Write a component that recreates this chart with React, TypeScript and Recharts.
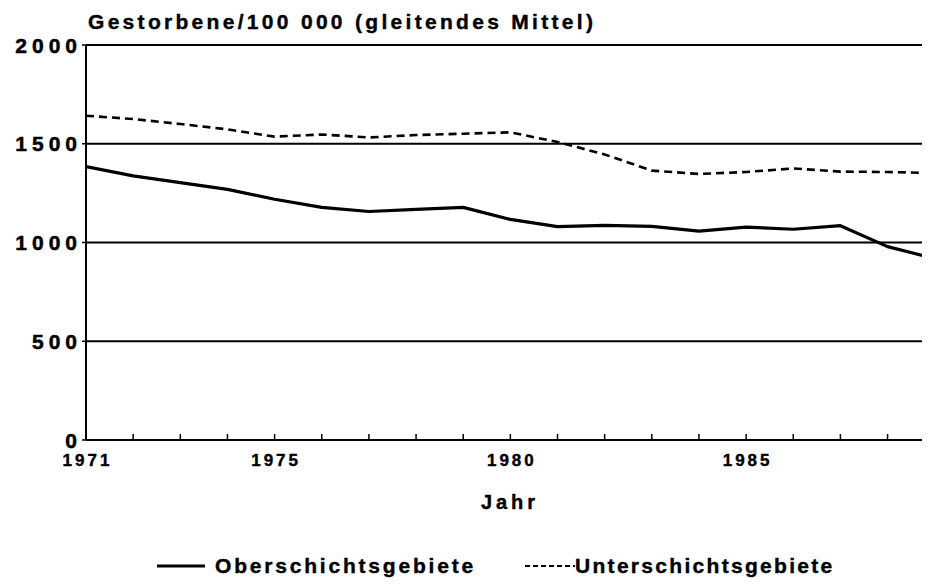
import React from 'react';
import { LineChart, Line, XAxis, YAxis, CartesianGrid, Legend } from 'recharts';

const years = [1971, 1972, 1973, 1974, 1975, 1976, 1977, 1978, 1979, 1980, 1981, 1982, 1983, 1984, 1985, 1986, 1987, 1988, 1988.9];
const oberschicht = [1384, 1337, 1303, 1269, 1219, 1178, 1157, 1168, 1178, 1117, 1080, 1087, 1082, 1058, 1078, 1067, 1085, 979, 925];
const unterschicht = [1642, 1625, 1600, 1573, 1536, 1547, 1532, 1544, 1551, 1558, 1509, 1446, 1364, 1347, 1357, 1375, 1359, 1357, 1352];
const xTicks = [1971, 1972, 1973, 1974, 1975, 1976, 1977, 1978, 1979, 1980, 1981, 1982, 1983, 1984, 1985, 1986, 1987, 1988];
const xTickLabels = [1971, 1975, 1980, 1985];
const yTicks = [0, 500, 1000, 1500, 2000];
const titleText = 'Gestorbene/100 000 (gleitendes Mittel)';
const xAxisTitle = 'Jahr';
const seriesNames = ['Oberschichtsgebiete', 'Unterschichtsgebiete'];

const data = years.map((year, i) => ({ year, ober: oberschicht[i], unter: unterschicht[i] }));

const FONT = '"Liberation Sans", Arial, Helvetica, sans-serif';

const XTick = (props: any) => {
  const { x, y, payload } = props;
  if (!xTickLabels.includes(payload.value)) return <g />;
  return (
    <text x={x + 1.5} y={y + 32} textAnchor="middle" fontFamily={FONT} fontWeight="bold" fontSize={17} fill="#000" stroke="#000" strokeWidth={0.4} style={{ letterSpacing: 3 }}>
      {payload.value}
    </text>
  );
};

const YTick = (props: any) => {
  const { x, y, payload } = props;
  return (
    <text x={x} y={y} dy="0.36em" textAnchor="end" fontFamily={FONT} fontWeight="bold" fontSize={21} fill="#000" stroke="#000" strokeWidth={0.5} style={{ letterSpacing: 5 }}>
      {payload.value}
    </text>
  );
};

const renderJahr = (props: any) => {
  const vb = props.viewBox || {};
  return (
    <text x={vb.x + vb.width / 2 + 2} y={vb.y + 69} textAnchor="middle" fontFamily={FONT} fontWeight="bold" fontSize={20} fill="#000" stroke="#000" strokeWidth={0.4} style={{ letterSpacing: 4 }}>
      {xAxisTitle}
    </text>
  );
};

const renderTitle = () => (
  <text x={80} y={21} textAnchor="start" fontFamily={FONT} fontWeight="bold" fontSize={21} fill="#000" stroke="#000" strokeWidth={0.4} style={{ letterSpacing: 3.3 }}>
    {titleText}
  </text>
);

const LegendContent = (props: any) => {
  const payload = props.payload || [];
  const lefts = [149, 517];
  return (
    <div style={{ position: 'relative', height: 50, fontFamily: FONT, fontWeight: 'bold', fontSize: 21, color: '#000' }}>
      {payload.map((entry: any, i: number) => {
        const dashed = entry.dataKey === 'unter';
        return (
          <div key={i} style={{ position: 'absolute', left: lefts[i], top: 26, height: 24, display: 'flex', alignItems: 'center', whiteSpace: 'nowrap' }}>
            <svg width={dashed ? 50 : 48} height={24} style={{ display: 'block' }}>
              <line x1={0} y1={12} x2={dashed ? 50 : 48} y2={12} stroke="#000" strokeWidth={dashed ? 2 : 3} strokeDasharray={dashed ? '5 3' : undefined} />
            </svg>
            <span style={{ marginLeft: dashed ? 0 : 10, letterSpacing: dashed ? 2.3 : 2.8, lineHeight: '24px', WebkitTextStroke: '0.4px #000' }}>{entry.value}</span>
          </div>
        );
      })}
    </div>
  );
};

export default function App() {
  return (
    <LineChart width={922} height={570} data={data} margin={{ top: 37, right: 0, left: 0, bottom: 0 }}>
      <CartesianGrid vertical={false} stroke="#000" strokeWidth={2} />
      <XAxis
        dataKey="year"
        type="number"
        domain={[1971, 1988.9]}
        allowDataOverflow
        ticks={xTicks}
        interval={0}
        height={88}
        tickSize={-6}
        tickMargin={0}
        axisLine={{ stroke: '#000', strokeWidth: 2 }}
        tickLine={{ stroke: '#000', strokeWidth: 1.5 }}
        tick={<XTick />}
        label={renderJahr}
      />
      <YAxis
        type="number"
        domain={[0, 2000]}
        ticks={yTicks}
        interval={0}
        width={78}
        tickSize={4}
        tickMargin={0}
        axisLine={{ stroke: '#000', strokeWidth: 2 }}
        tickLine={{ stroke: '#000', strokeWidth: 1.5 }}
        tick={<YTick />}
        label={renderTitle}
      />
      <Legend verticalAlign="bottom" height={50} wrapperStyle={{ height: 50 }} content={<LegendContent />} />
      <Line type="linear" dataKey="ober" name={seriesNames[0]} stroke="#000" strokeWidth={3.2} dot={false} activeDot={false} isAnimationActive={false} strokeLinejoin="round" />
      <Line type="linear" dataKey="unter" name={seriesNames[1]} stroke="#000" strokeWidth={2.6} strokeDasharray="8 5" dot={false} activeDot={false} isAnimationActive={false} />
    </LineChart>
  );
}
